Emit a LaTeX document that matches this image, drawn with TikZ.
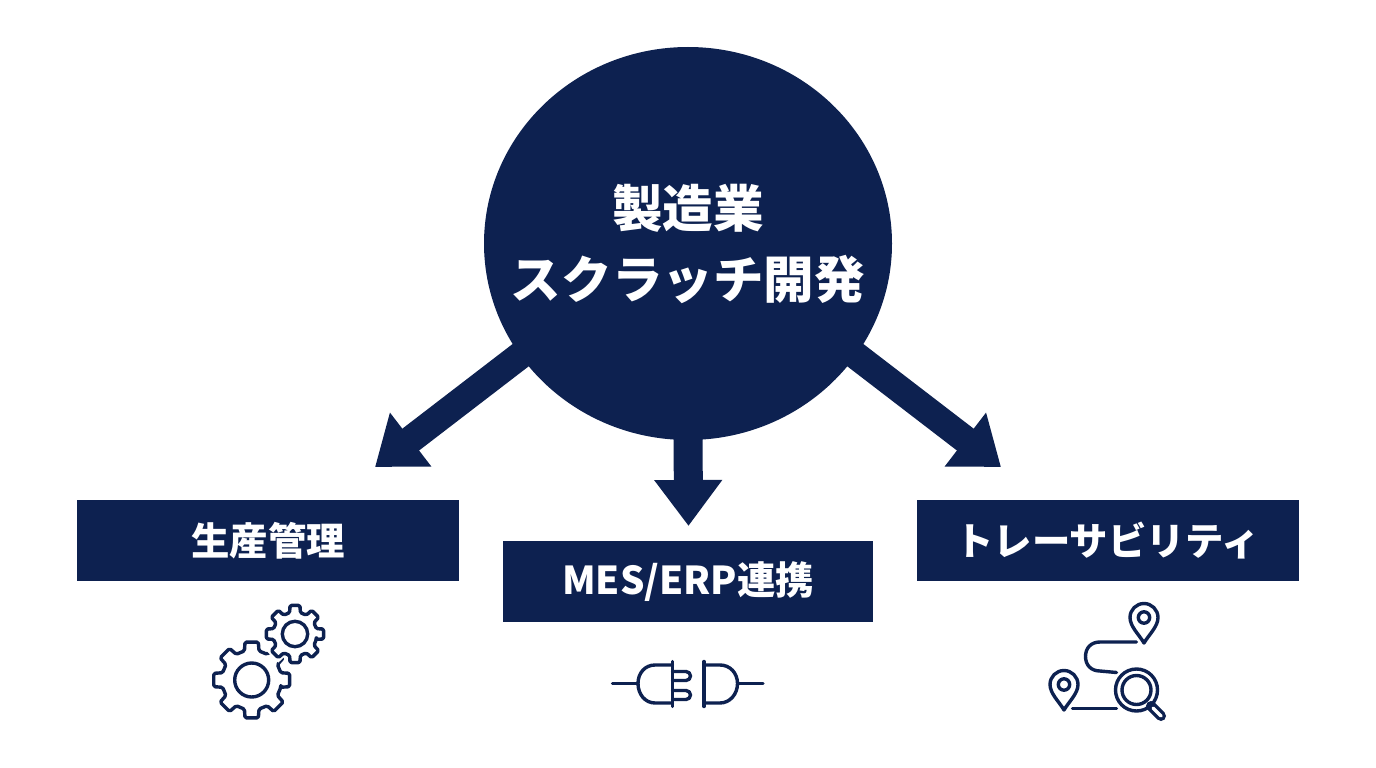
\documentclass[tikz,border=0pt]{standalone}
\usepackage{fontspec}
\setmainfont{Noto Sans CJK JP}
\usetikzlibrary{arrows.meta,shapes.geometric}
\definecolor{navy}{HTML}{0D2150}
\newcommand{\gearpath}[4]{% cx, cy, outer, valley
  [shift={(#1,#2)}] (14:#4)
  \foreach \a in {45,90,...,360} { -- ({\a-14}:#4) -- ({\a-10}:#3) -- ({\a+10}:#3) -- ({\a+14}:#4) } -- cycle}
\tikzset{
  x=1pt,y=-1pt,
  labelbox/.style={fill=navy,text=white,inner sep=0pt,font=\fontsize{38.4}{46}\selectfont\bfseries},
  bigarrow/.style={navy,line width=#1},
  icon/.style={draw=navy,line width=3.4pt,line cap=round,line join=round},
}
\newcommand{\pinshape}[2]{%
  \draw[icon] (#1,#2+25.5) .. controls (#1-5,#2+17) and (#1-14,#2+9) .. (#1-14,#2)
    .. controls (#1-14,#2-7.7) and (#1-7.7,#2-14) .. (#1,#2-14)
    .. controls (#1+7.7,#2-14) and (#1+14,#2-7.7) .. (#1+14,#2)
    .. controls (#1+14,#2+9) and (#1+5,#2+17) .. cycle;
  \draw[icon] (#1,#2) circle[radius=5.7];
}
\begin{document}
\begin{tikzpicture}
\useasboundingbox (0,0) rectangle (1376,768);
\fill[white] (0,0) rectangle (1376,768);
\coordinate (tipL) at (375,467);
\coordinate (tipM) at (688.5,526);
\coordinate (tipR) at (1001,467);
\coordinate (startL) at (530,348);
\coordinate (startM) at (688,420);
\coordinate (startR) at (846,348);
\node[ellipse,fill=navy,minimum width=408pt,minimum height=393pt,inner sep=0pt] (hubnode) at (688,243.5) {};
\node[text=white,inner sep=0pt,align=center,font=\fontsize{50.6}{71}\selectfont\bfseries] (hubtext) at (hubnode.center) {製造業\\スクラッチ開発};
\draw[bigarrow=27.5pt,-{Triangle[length=45pt,width=65pt]}] (startL) -- (tipL);
\draw[bigarrow=29pt,-{Triangle[length=46pt,width=65pt]}] (startM) -- (tipM);
\draw[bigarrow=27.5pt,-{Triangle[length=45pt,width=65pt]}] (startR) -- (tipR);
\node[labelbox,minimum width=382pt,minimum height=81pt] (boxL) at (268,540.5) {生産管理};
\node[labelbox,minimum width=370pt,minimum height=81pt] (boxM) at (688,581.5) {MES/ERP連携};
\node[labelbox,minimum width=382pt,minimum height=81pt] (boxR) at (1107.5,540.5) {トレーサビリティ};
% gears
\draw[icon,fill=white,rounded corners=1.5pt] \gearpath{251.7}{680}{38.5}{30};
\draw[icon] (251.7,680) circle[radius=17];
\fill[white,draw=white,line width=7pt] \gearpath{295}{634}{29}{22};
\draw[icon,fill=white,rounded corners=1.5pt] \gearpath{295}{634}{29}{22};
\draw[icon] (295,634) circle[radius=12.7];
% plug
\draw[icon] (612.5,683.5) -- (637.5,683.5);
\draw[icon] (672.5,665) -- (655,665) .. controls (645,665) and (638,673) .. (638,683.5)
  .. controls (638,694) and (645,703) .. (655,703) -- (672.5,703);
\draw[icon] (672.5,661.5) -- (672.5,706.5);
\draw[icon] (672.5,671.5) -- (686,671.5) arc[start angle=-90,end angle=90,radius=4.5] -- (672.5,680.5);
\draw[icon] (672.5,690.5) -- (686,690.5) arc[start angle=-90,end angle=90,radius=4.5] -- (672.5,699.5);
\draw[icon] (704,661.5) -- (704,706.5);
\draw[icon] (704,665) -- (720,665) .. controls (730,665) and (737.5,673) .. (737.5,683.5)
  .. controls (737.5,694) and (730,703) .. (720,703) -- (704,703);
\draw[icon] (738,683.5) -- (763,683.5);
% route
\pinshape{1144}{617.5}
\pinshape{1064}{684.5}
\draw[icon] (1136.5,642) -- (1100,642) .. controls (1091,642) and (1085.5,648) .. (1085.5,656.5)
  .. controls (1085.5,665) and (1091,671) .. (1100,671) -- (1116.5,672.5);
\draw[icon] (1072.5,708.5) -- (1116.5,708.5);
\draw[navy,line width=10pt,line cap=round] (1151,706) -- (1161,716);
\draw[white,line width=3.5pt,line cap=round] (1153,708) -- (1161,716);
\draw[icon] (1136.5,690) circle[radius=21];
\draw[icon] (1136.5,690) circle[radius=14.5];
\end{tikzpicture}
\end{document}
